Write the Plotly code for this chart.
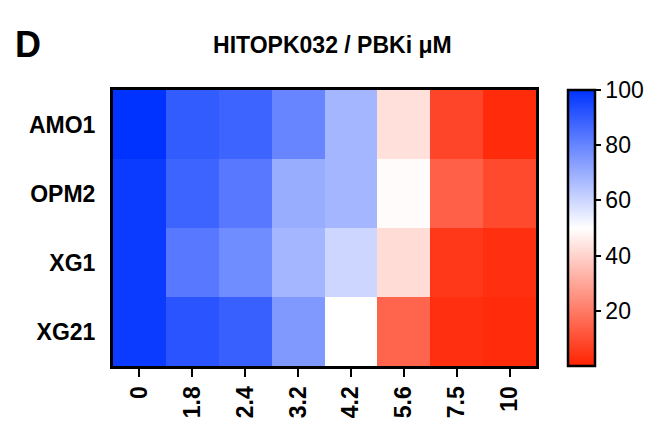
import plotly.graph_objects as go

doses = ["0", "1.8", "2.4", "3.2", "4.2", "5.6", "7.5", "10"]
cell_lines = ["AMO1", "OPM2", "XG1", "XG21"]
amo1 = [100, 90, 88, 80, 68, 43, 8, 2]
opm2 = [98, 88, 83, 70, 68, 49, 14, 9]
xg1 = [98, 83, 78, 68, 60, 42, 5, 3]
xg21 = [98, 92, 89, 75, 50, 15, 3, 2]

z = [amo1, opm2, xg1, xg21]

scale = [[0, "#ff2200"], [0.5, "#ffffff"], [1, "#0033ff"]]
tick_font = dict(size=23, color="black", family="Liberation Sans", weight="bold")

fig = go.Figure(go.Heatmap(
    z=z, x=doses, y=cell_lines, zmin=0, zmax=100, colorscale=scale,
    colorbar=dict(
        tickvals=[20, 40, 60, 80, 100], ticks="outside", ticklen=5,
        tickwidth=2, tickcolor="black",
        outlinewidth=2.5, outlinecolor="black", thickness=27,
        len=1.0, lenmode="fraction", x=1.075, xanchor="left", xpad=0,
        y=0.5, ypad=0,
        tickfont=dict(size=23, color="black", family="Liberation Sans"),
    ),
))

fig.update_xaxes(
    tickangle=-90, tickfont=tick_font, automargin=False,
    showline=True, linewidth=3, linecolor="black", mirror=True,
    ticks="outside", ticklen=8, tickwidth=2, tickcolor="black",
)
fig.update_yaxes(
    autorange="reversed", tickfont=tick_font, automargin=False,
    showline=True, linewidth=3, linecolor="black", mirror=True,
    ticks="", ticklabelstandoff=10,
)

fig.update_layout(
    width=662, height=434,
    margin=dict(l=105, r=134, t=82, b=76),
    plot_bgcolor="white", paper_bgcolor="white",
    font=dict(family="Liberation Sans", color="black"),
    title=dict(text="<b>HITOPK032 / PBKi μM</b>", x=0.49, xanchor="center",
               y=0.915, yanchor="middle", font=dict(size=23)),
    annotations=[dict(text="<b>D</b>", x=0.0, y=1.0, xref="paper", yref="paper",
                      xshift=-100, yshift=68, showarrow=False, font=dict(size=36),
                      xanchor="left", yanchor="top")],
)

fig.write_html("out.html")
